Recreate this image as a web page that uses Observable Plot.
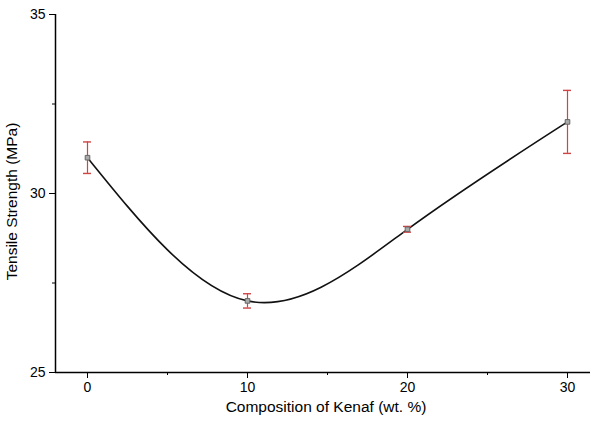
<!DOCTYPE html>
<html>
<head>
<meta charset="utf-8">
<script src="https://cdn.jsdelivr.net/npm/d3@7"></script>
<script src="https://cdn.jsdelivr.net/npm/@observablehq/plot@0.6"></script>
<style>
  html, body { margin: 0; padding: 0; background: #fff; }
</style>
</head>
<body>
<div id="chart"></div>
<script>
const composition = [0, 10, 20, 30];
const strength = [31.0, 27.0, 29.0, 32.0];
const errorSd = [0.44, 0.2, 0.08, 0.88];
const xMajorTicks = [0, 10, 20, 30];
const xMinorTicks = [5, 15, 25];
const yMajorTicks = [25, 30, 35];
const yMinorTicks = [27.5, 32.5];
const xLabel = "Composition of Kenaf (wt. %)";
const yLabel = "Tensile Strength (MPa)";

const data = composition.map((c, i) => ({x: c, y: strength[i], e: errorSd[i]}));
const capHalf = 0.25;

const chart = Plot.plot({
  width: 590,
  height: 423,
  marginLeft: 55,
  marginRight: 0,
  marginTop: 14,
  marginBottom: 51,
  style: {fontFamily: "'Liberation Sans', Arial, sans-serif", fontSize: "14px", background: "#fff", color: "#000"},
  x: {domain: [-2, 31.4375]},
  y: {domain: [25, 35]},
  marks: [
    Plot.ruleY([25], {stroke: "#000", strokeWidth: 1.5}),
    Plot.ruleX([-2], {stroke: "#000", strokeWidth: 1.5}),
    Plot.axisY({ticks: yMajorTicks, tickSize: 6, tickPadding: 4, label: null, fontSize: 14, stroke: "#000"}),
    Plot.axisY({ticks: yMinorTicks, tickSize: 3, text: null, label: null, stroke: "#000"}),
    Plot.axisX({ticks: xMajorTicks, tickSize: 6, tickPadding: 4, label: null, fontSize: 14, stroke: "#000"}),
    Plot.axisX({ticks: xMinorTicks, tickSize: 3, text: null, label: null, stroke: "#000"}),
    Plot.text([xLabel], {frameAnchor: "bottom", textAnchor: "middle", dy: 39, dx: 3, fontSize: 15.5, fill: "#000"}),
    Plot.text([yLabel], {frameAnchor: "left", textAnchor: "middle", dx: -43, dy: 8, rotate: -90, fontSize: 15.5, fill: "#000"}),
    Plot.line(data, {x: "x", y: "y", curve: "natural", stroke: "#111", strokeWidth: 1.6}),
    Plot.ruleX(data, {x: "x", y1: d => d.y - d.e, y2: d => d.y + d.e, stroke: "#cf4444", strokeWidth: 1.2}),
    Plot.ruleY(data, {y: d => d.y - d.e, x1: d => d.x - capHalf, x2: d => d.x + capHalf, stroke: "#cf4444", strokeWidth: 1.4}),
    Plot.ruleY(data, {y: d => d.y + d.e, x1: d => d.x - capHalf, x2: d => d.x + capHalf, stroke: "#cf4444", strokeWidth: 1.4}),
    Plot.dot(data, {x: "x", y: "y", symbol: "square", r: 2.6, fill: "#aaa", stroke: "#666", strokeWidth: 1})
  ]
});
document.getElementById("chart").appendChild(chart);
</script>
</body>
</html>
